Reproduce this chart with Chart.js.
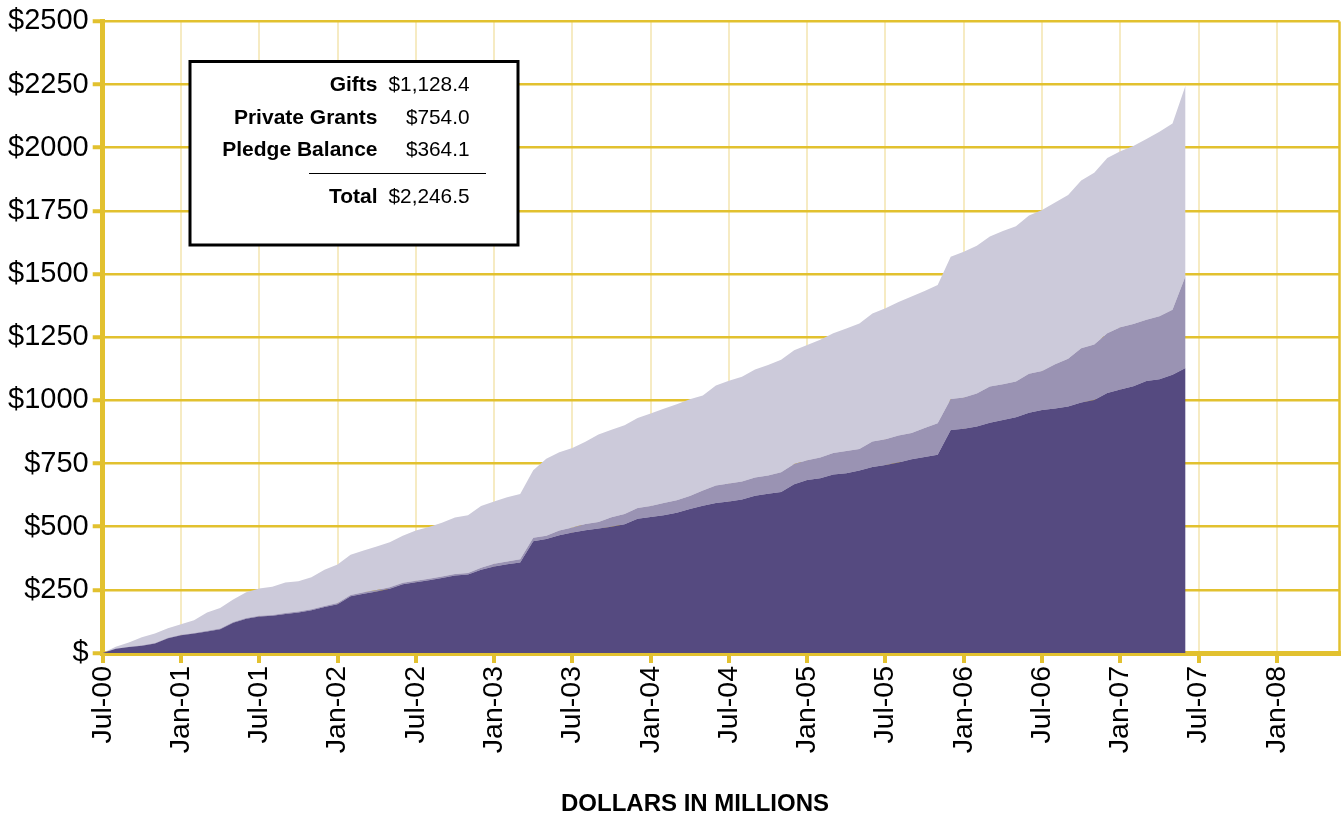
<!DOCTYPE html>
<html>
<head>
<meta charset="utf-8">
<script src="https://cdn.jsdelivr.net/npm/chart.js@4.4.1/dist/chart.umd.min.js"></script>
<style>
  html, body { margin: 0; padding: 0; background: #fff; }
  #wrap { width: 1341px; height: 816px; }
</style>
</head>
<body>
<div id="wrap"><canvas id="chart" width="1341" height="816"></canvas></div>
<script>
// ── Data (monthly, Jul-00 = month 0) ─────────────────────────
const tickLabels = ['Jul-00','Jan-01','Jul-01','Jan-02','Jul-02','Jan-03','Jul-03','Jan-04',
                    'Jul-04','Jan-05','Jul-05','Jan-06','Jul-06','Jan-07','Jul-07','Jan-08'];

const gifts = [0,17,24,29,38,58,70,77,85,94,120,136,144,147,154,160,169,182,193,225,
  235,243,254,272,280,288,297,307,311,330,342,351,358,442,451,466,477,486,493,500,
  510,531,538,545,555,570,583,594,600,608,622,630,637,668,685,692,707,711,722,736,
  744,754,767,776,785,883,888,897,911,922,933,951,962,968,976,992,1001,1029,1043,1056,
  1077,1084,1101,1128.4];

const pledgeBalance = [0,1,1,2,2,2,2,2,3,3,3,3,3,3,4,4,4,4,5,5,
  5,6,6,6,6,6,6,6,6,7,11,11,13,14,13,19,20,25,26,37,
  40,43,44,49,50,51,60,69,71,71,73,73,78,80,78,82,85,89,85,101,
  102,107,104,115,124,122,123,130,144,142,142,154,154,175,189,214,220,237,246,246,
  242,249,258,364.1];

const privateGrants = [0,7,17,31,37,38,42,51,72,81,89,101,108,112,121,120,127,144,152,159,
  166,173,178,186,199,205,213,223,228,245,247,254,258,267,305,310,314,325,346,347,
  351,356,366,373,380,383,376,396,407,414,427,437,446,450,456,466,474,484,497,507,
  519,528,540,542,548,563,577,585,594,606,614,627,637,640,648,664,680,693,697,705,
  716,730,737,754.0];

const summaryLabels = ['Gifts', 'Private Grants', 'Pledge Balance'];
const summaryValues = ['$1,128.4', '$754.0', '$364.1'];
const totalValue = '$2,246.5';

// ── Styles ───────────────────────────────────────────────────
const GOLD = '#E2C12F';
const GOLD_PALE = '#F6EBC3';
const FONT = "'Liberation Sans', Arial, Helvetica, sans-serif";

const toPoints = arr => arr.map((v, i) => ({ x: i, y: v }));

// summary box + right frame + axis caption
const overlayPlugin = {
  id: 'overlay',
  afterDraw(chart) {
    const { ctx, chartArea } = chart;
    ctx.save();

    // right frame line
    ctx.strokeStyle = GOLD;
    ctx.lineWidth = 2.5;
    ctx.beginPath();
    ctx.moveTo(chartArea.right, chartArea.top);
    ctx.lineTo(chartArea.right, chartArea.bottom);
    ctx.stroke();

    // summary box
    ctx.fillStyle = '#fff';
    ctx.fillRect(190, 61.5, 328, 183.5);
    ctx.strokeStyle = '#000';
    ctx.lineWidth = 3;
    ctx.strokeRect(190, 61.5, 328, 183.5);

    ctx.fillStyle = '#000';
    ctx.textAlign = 'right';
    ctx.textBaseline = 'alphabetic';
    const rows = [91, 123.5, 155.5];
    summaryLabels.forEach((lab, i) => {
      ctx.font = `bold 21px ${FONT}`;
      ctx.fillText(lab, 377.5, rows[i]);
      ctx.font = `20.8px ${FONT}`;
      ctx.fillText(summaryValues[i], 469.5, rows[i]);
    });

    ctx.lineWidth = 1.2;
    ctx.beginPath();
    ctx.moveTo(309, 173.5);
    ctx.lineTo(486, 173.5);
    ctx.stroke();

    ctx.font = `bold 21px ${FONT}`;
    ctx.fillText('Total', 377.5, 203);
    ctx.font = `20.8px ${FONT}`;
    ctx.fillText(totalValue, 469.5, 203);

    // caption
    ctx.textAlign = 'center';
    ctx.font = `bold 24px ${FONT}`;
    ctx.fillText('DOLLARS IN MILLIONS', 695, 811);

    ctx.restore();
  }
};

new Chart(document.getElementById('chart').getContext('2d'), {
  type: 'line',
  data: {
    datasets: [
      {
        label: 'Gifts',
        data: toPoints(gifts),
        backgroundColor: '#554A80',
        fill: 'origin',
      },
      {
        label: 'Pledge Balance',
        data: toPoints(pledgeBalance),
        backgroundColor: '#9A93B3',
        fill: '-1',
      },
      {
        label: 'Private Grants',
        data: toPoints(privateGrants),
        backgroundColor: '#CCCADA',
        fill: '-1',
      },
    ].map(d => Object.assign(d, {
      borderWidth: 0,
      borderColor: 'rgba(0,0,0,0)',
      pointRadius: 0,
      pointHoverRadius: 0,
      tension: 0,
    }))
  },
  options: {
    responsive: false,
    animation: false,
    events: [],
    layout: { padding: { top: 19.5, right: 1.5, left: 0, bottom: 0 } },
    plugins: {
      legend: { display: false },
      tooltip: { enabled: false },
    },
    scales: {
      x: {
        type: 'linear',
        min: 0,
        max: 94.8,
        afterFit: s => { s.height = 163; },
        afterBuildTicks: s => { s.ticks = tickLabels.map((_, i) => ({ value: i * 6 })); },
        border: { color: GOLD, width: 5 },
        grid: {
          color: GOLD_PALE,
          lineWidth: 2,
          tickColor: GOLD,
          tickLength: 10,
          tickWidth: 4,
        },
        ticks: {
          autoSkip: false,
          minRotation: 90,
          maxRotation: 90,
          padding: 3,
          color: '#000',
          font: { family: FONT, size: 28.5 },
          callback: v => tickLabels[Math.round(v / 6)] ?? '',
        },
      },
      y: {
        stacked: true,
        min: 0,
        max: 2500,
        afterFit: s => { s.width = 102.7; },
        border: { color: GOLD, width: 5 },
        grid: {
          color: GOLD,
          lineWidth: 2.5,
          tickColor: GOLD,
          tickLength: 10,
          tickWidth: 4,
        },
        ticks: {
          stepSize: 250,
          padding: 4,
          color: '#000',
          font: { family: FONT, size: 29 },
          callback: v => v === 0 ? '$' : '$' + v,
        },
      },
    },
  },
  plugins: [overlayPlugin],
});
</script>
</body>
</html>
